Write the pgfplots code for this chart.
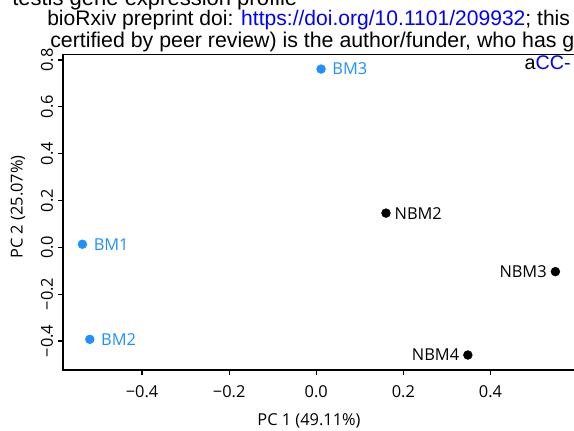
\documentclass[border=0pt]{standalone}
\usepackage{fontspec}
\setmainfont{Open Sans}
\newfontfamily\arialfont{Liberation Sans}
\usepackage{pgfplots}
\pgfplotsset{compat=1.18}
\definecolor{dodger}{RGB}{30,144,255}
\definecolor{linkblue}{RGB}{0,0,255}
\newcommand\fz{\fontsize{12.3pt}{14pt}\selectfont}
\begin{document}
\begin{tikzpicture}
\path[use as bounding box, clip] (0,0) rectangle (430.5pt,322.5pt);
\node[anchor=base west, inner sep=0, font=\arialfont\fontsize{16.5pt}{18pt}\selectfont] at (9pt,318.75pt) {testis gene expression profile};
\node[anchor=base west, inner sep=0, font=\arialfont\fontsize{15.8pt}{18pt}\selectfont] at (35.25pt,303.4pt) {bioRxiv preprint doi: \textcolor{linkblue}{https://doi.org/10.1101/209932}; this};
\node[anchor=base west, inner sep=0, font=\arialfont\fontsize{16pt}{18pt}\selectfont] at (37.5pt,286.9pt) {certified by peer review) is the author/funder, who has g};
\node[anchor=base west, inner sep=0, font=\arialfont\fontsize{14.8pt}{17pt}\selectfont] at (393.2pt,270.5pt) {a\textcolor{linkblue}{CC-}};
\begin{axis}[
  at={(47.25pt,45pt)}, anchor=south west,
  scale only axis, width=385.95pt, height=236.6pt,
  xmin=-0.5816, xmax=0.6, ymin=-0.524, ymax=0.823,
  axis line style={line width=0.9pt},
  tick style={line width=0.9pt, black},
  tick align=outside, major tick length=3.9pt,
  xtick pos=bottom, ytick pos=left,
  xtick={-0.4,-0.2,0,0.2,0.4},
  xticklabels={−0.4,−0.2,0.0,0.2,0.4},
  ytick={-0.4,-0.2,0,0.2,0.4,0.6,0.8},
  yticklabels={−0.4,−0.2,0.0,0.2,0.4,0.6,0.8},
  tick label style={font=\fz},
  xticklabel style={yshift=-4pt},
  yticklabel style={rotate=90, anchor=south},
  label style={font=\fz},
  xlabel={PC 1 (49.11\%)},
  ylabel={PC 2 (25.07\%)},
  xlabel style={at={(axis description cs:0.478,-0.1617)}, anchor=center},
  ylabel style={at={(axis description cs:-0.0874,0.5166)}, anchor=center},
  clip=false,
]
\addplot[only marks, mark=*, mark size=3.3pt, color=dodger,
  nodes near coords, point meta=explicit symbolic,
  nodes near coords style={anchor=west, xshift=5pt, text=dodger, font=\fz}]
  table[meta=label] {
x y label
-0.537 0.013 BM1
-0.520 -0.393 BM2
0.011 0.761 BM3
};
\addplot[only marks, mark=*, mark size=3.3pt, color=black,
  nodes near coords, point meta=explicit symbolic,
  nodes near coords style={anchor=west, xshift=3pt, text=black, font=\fz}]
  table[meta=label] {
x y label
0.160 0.146 NBM2
};
\addplot[only marks, mark=*, mark size=3.3pt, color=black,
  nodes near coords, point meta=explicit symbolic,
  nodes near coords style={anchor=east, xshift=-3pt, text=black, font=\fz}]
  table[meta=label] {
x y label
0.549 -0.104 NBM3
0.348 -0.460 NBM4
};
\end{axis}
\end{tikzpicture}
\end{document}
